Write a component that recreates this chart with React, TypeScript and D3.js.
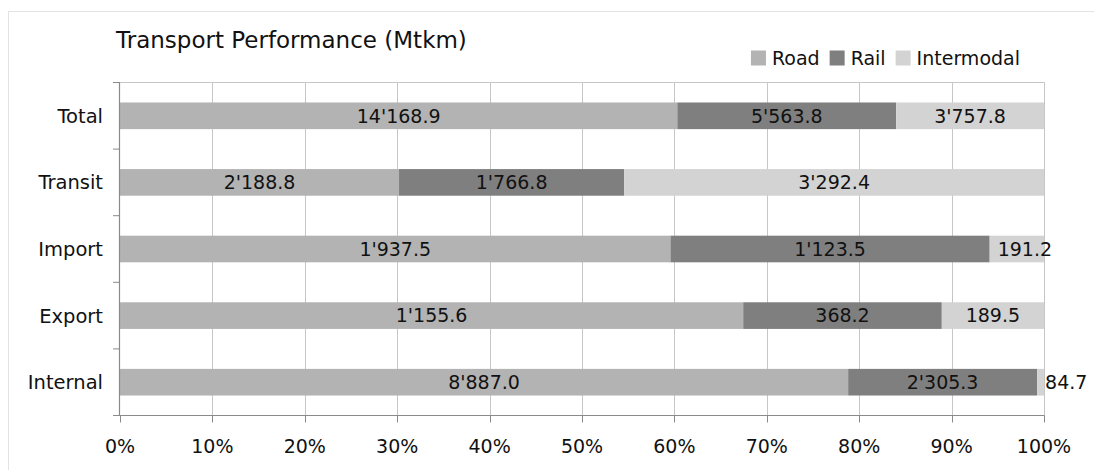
import React from "react";
import * as d3 from "d3";

// Transport performance by traffic type, in million tonne-km
const categories = ["Total", "Transit", "Import", "Export", "Internal"];
const modes = ["Road", "Rail", "Intermodal"];
const road = [14168.9, 2188.8, 1937.5, 1155.6, 8887.0];
const rail = [5563.8, 1766.8, 1123.5, 368.2, 2305.3];
const intermodal = [3757.8, 3292.4, 191.2, 189.5, 84.7];
const xTicks = [0, 0.1, 0.2, 0.3, 0.4, 0.5, 0.6, 0.7, 0.8, 0.9, 1.0];
const colors = ["#b3b3b3", "#7f7f7f", "#d3d3d3"];

const W = 1094;
const H = 470;
const FONT = "'DejaVu Sans', Verdana, sans-serif";

const swissLocale = d3.formatLocale({
  decimal: ".",
  thousands: "'",
  grouping: [3],
  currency: ["", ""],
});
const fmtValue = swissLocale.format(",.1f");
const fmtPct = d3.format(".0%");

let measureCtx: CanvasRenderingContext2D | null = null;
function textWidth(s: string, size: number): number {
  if (!measureCtx) {
    const c = document.createElement("canvas");
    measureCtx = c.getContext("2d");
  }
  if (!measureCtx) return s.length * size * 0.6;
  measureCtx.font = `${size}px ${FONT}`;
  return measureCtx.measureText(s).width;
}

export default function App() {
  const plotLeft = 120;
  const plotRight = 1044;
  const plotTop = 82.5;
  const plotBottom = 415.5;

  const x = d3.scaleLinear().domain([0, 1]).range([plotLeft, plotRight]);
  const y = d3
    .scaleBand<string>()
    .domain(categories)
    .range([plotTop, plotBottom])
    .paddingInner(0.6)
    .paddingOuter(0.3);

  const rows = categories.map((c, i) => ({
    category: c,
    Road: road[i],
    Rail: rail[i],
    Intermodal: intermodal[i],
  }));
  const normalized = rows.map((r) => {
    const total = r.Road + r.Rail + r.Intermodal;
    return {
      category: r.category,
      Road: r.Road / total,
      Rail: r.Rail / total,
      Intermodal: r.Intermodal / total,
      raw: r,
    };
  });
  const series = d3.stack<any>().keys(modes)(normalized);

  const step = y.step();
  const boundaries = d3.range(categories.length + 1).map((i) => plotTop + i * step);

  // legend layout, right-aligned
  const legendSize = 19;
  const sw = 15;
  const legendItems = modes.map((m) => ({ m, w: sw + 6 + textWidth(m, legendSize) }));
  const legendGap = 10;
  const legendTotal = d3.sum(legendItems, (d) => d.w) + legendGap * (modes.length - 1);
  let lx = 1020 - legendTotal;
  const legendPos = legendItems.map((d) => {
    const p = lx;
    lx += d.w + legendGap;
    return { ...d, x: p };
  });

  const labelSize = 19;

  return (
    <svg
      width={W}
      height={H}
      style={{ position: "absolute", left: 0, top: 0, background: "#fff" }}
      fontFamily={FONT}
    >
      {/* outer frame */}
      <rect x={8.5} y={11.5} width={W + 20} height={H + 20} fill="none" stroke="#e3e3e3" />

      <text x={116} y={48} fontSize={23} fill="#111">
        Transport Performance (Mtkm)
      </text>

      {/* legend */}
      {legendPos.map((d, i) => (
        <g key={d.m}>
          <rect x={d.x} y={50.5} width={sw} height={sw} fill={colors[i]} />
          <text x={d.x + sw + 6} y={65} fontSize={legendSize} fill="#111">
            {d.m}
          </text>
        </g>
      ))}

      {/* vertical grid */}
      {xTicks.slice(1).map((t) => (
        <line
          key={t}
          x1={Math.round(x(t)) + 0.5}
          x2={Math.round(x(t)) + 0.5}
          y1={plotTop}
          y2={plotBottom}
          stroke="#c6c6c6"
        />
      ))}
      <line x1={113} x2={plotRight + 0.5} y1={plotTop} y2={plotTop} stroke="#c6c6c6" />

      {/* bars */}
      {series.map((s, si) =>
        s.map((seg: any) => {
          const cat = seg.data.category as string;
          const x0 = x(seg[0]);
          const x1 = x(seg[1]);
          return (
            <rect
              key={`${si}-${cat}`}
              x={x0}
              y={y(cat)}
              width={Math.max(0, x1 - x0)}
              height={y.bandwidth()}
              fill={colors[si]}
            />
          );
        })
      )}

      {/* value labels */}
      {series.map((s, si) =>
        s.map((seg: any) => {
          const cat = seg.data.category as string;
          const v = seg.data.raw[modes[si]] as number;
          const label = fmtValue(v);
          const x0 = x(seg[0]);
          const x1 = x(seg[1]);
          const tw = textWidth(label, labelSize);
          const fits = tw + 6 < x1 - x0;
          const cy = (y(cat) as number) + y.bandwidth() / 2;
          return (
            <text
              key={`l-${si}-${cat}`}
              x={fits ? (x0 + x1) / 2 : x0 + 8}
              y={cy}
              dy="0.36em"
              textAnchor={fits ? "middle" : "start"}
              fontSize={labelSize}
              fill="#111"
            >
              {label}
            </text>
          );
        })
      )}

      {/* left axis */}
      <line x1={119.5} x2={119.5} y1={plotTop} y2={plotBottom} stroke="#8a8a8a" strokeWidth={1.2} />
      {boundaries.map((b, i) => (
        <line key={i} x1={113} x2={120} y1={b} y2={b} stroke="#8a8a8a" />
      ))}
      {categories.map((c) => (
        <text
          key={c}
          x={103}
          y={(y(c) as number) + y.bandwidth() / 2}
          dy="0.36em"
          textAnchor="end"
          fontSize={19.5}
          fill="#111"
        >
          {c}
        </text>
      ))}

      {/* bottom axis */}
      <line x1={113} x2={plotRight + 0.5} y1={plotBottom} y2={plotBottom} stroke="#8a8a8a" strokeWidth={1.2} />
      {xTicks.map((t) => (
        <g key={t}>
          <line
            x1={Math.round(x(t)) + 0.5}
            x2={Math.round(x(t)) + 0.5}
            y1={plotBottom}
            y2={plotBottom + 7}
            stroke="#8a8a8a"
          />
          <text x={x(t)} y={453} textAnchor="middle" fontSize={19} fill="#111">
            {fmtPct(t)}
          </text>
        </g>
      ))}
    </svg>
  );
}
